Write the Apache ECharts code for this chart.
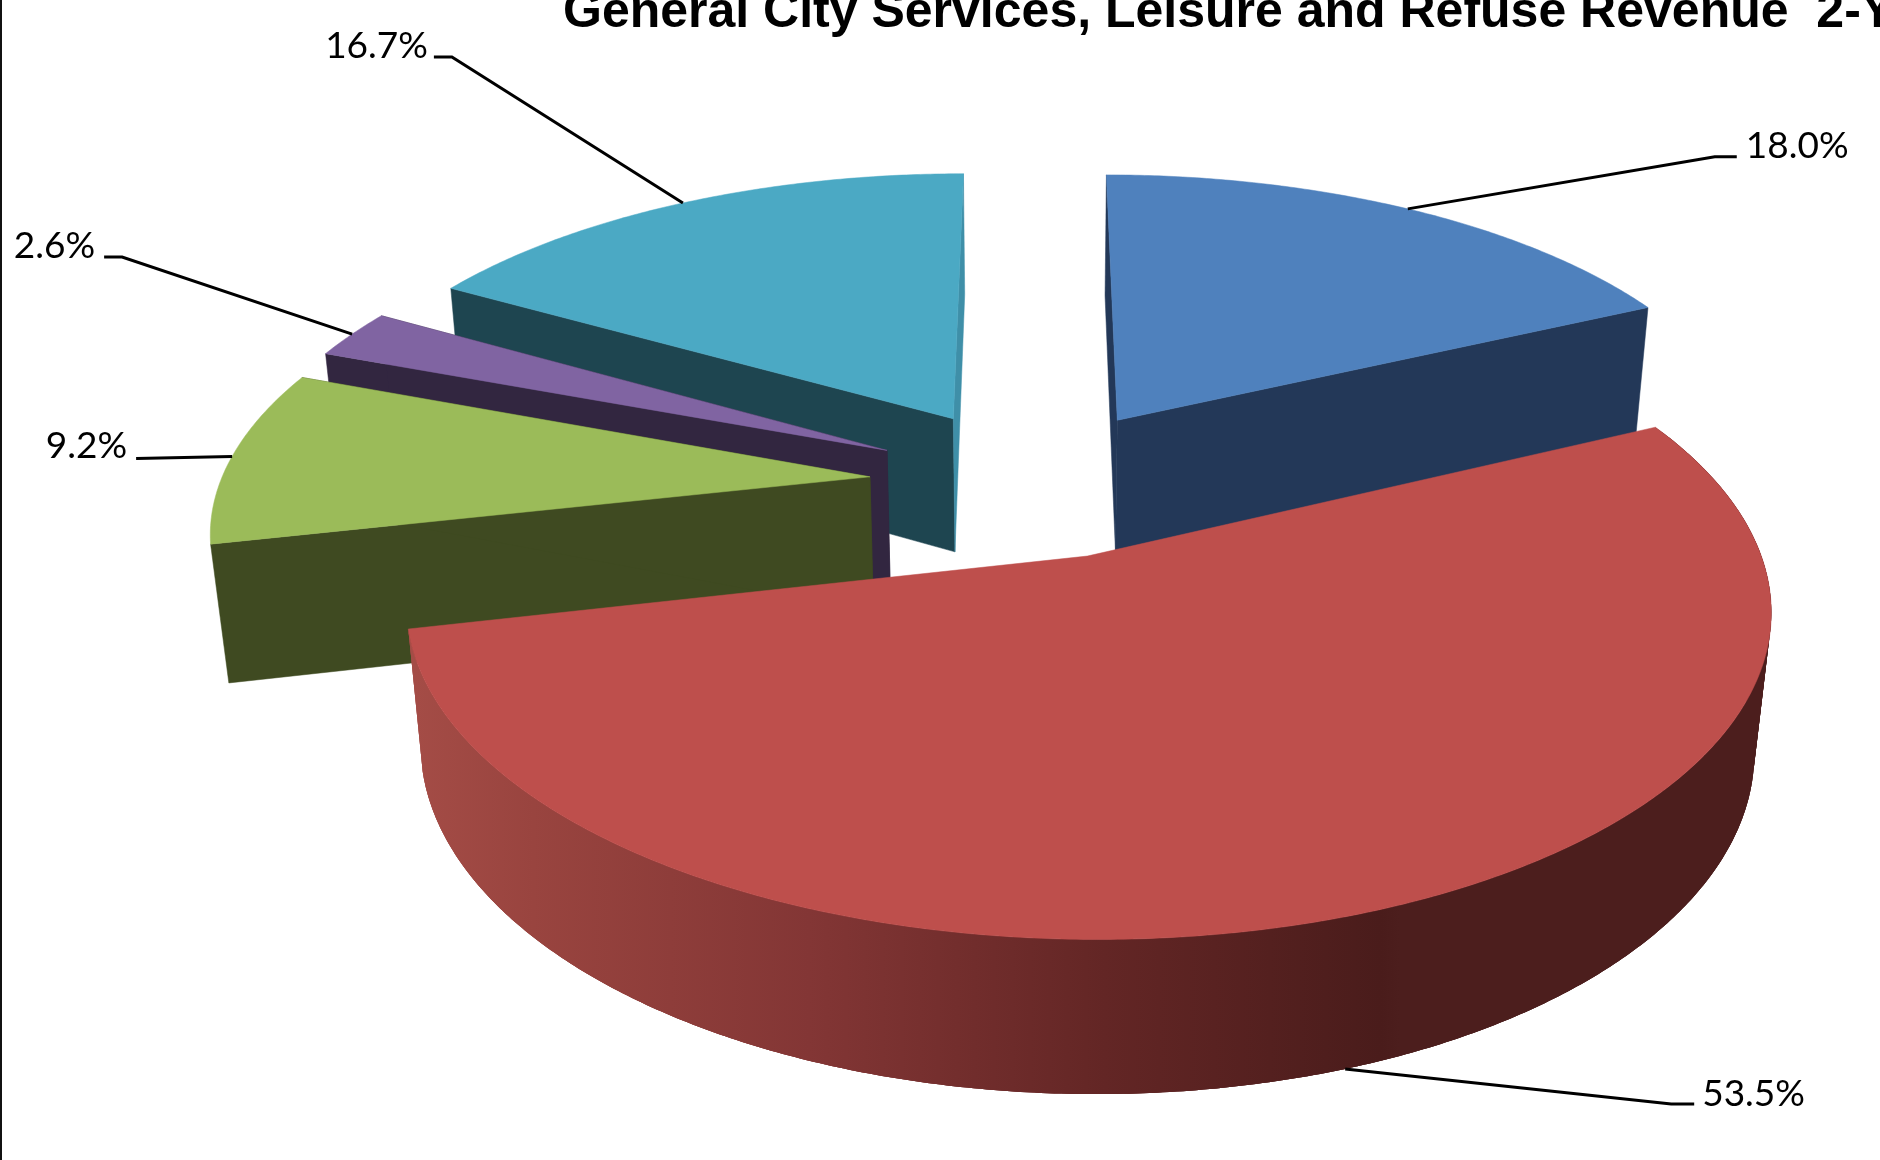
<!DOCTYPE html>
<html><head><meta charset="utf-8">
<style>html,body{margin:0;padding:0;background:#fff}#c{width:1880px;height:1160px}</style>
<script src="https://cdn.jsdelivr.net/npm/echarts@6/dist/echarts.min.js"></script>
</head><body><div id="c"></div>
<script>
// ---- data (clockwise from 12 o'clock) ----
const sliceNames = ['Slice 1', 'Slice 2', 'Slice 3', 'Slice 4', 'Slice 5'];
const sliceValues = [18.0, 53.5, 9.2, 2.6, 16.7];
const titleText = 'General City Services, Leisure and Refuse Revenue  2-Year';

// ---- styling ----
const topColors   = ['#4F81BD', '#BE4F4C', '#9BBB59', '#8064A2', '#4BA9C4'];
const startFaces  = ['#233858', '#4A1C1B', '#3F4A21', '#322640', '#1E4550'];
const endFaces    = ['#233858', '#4A1C1B', '#3F4A21', '#322640', '#3F8FA8'];
const drawOrder   = [4, 0, 3, 2, 1];               // back to front
// leader elbow / stub end / text anchor, relative to the leader's point on the rim
const labelLayout = [
  {elbow:[ 307,-52], stub:[ 329,-52], text:[ 338,-63], align:'left'},
  {elbow:[ 326, 35], stub:[ 349, 35], text:[ 357, 25], align:'left'},
  {elbow:[ -96,  2], stub:[ -96,  2], text:[-105,-10], align:'right'},
  {elbow:[-230,-77], stub:[-248,-77], text:[-257,-88], align:'right'},
  {elbow:[-231,-146],stub:[-249,-146],text:[-255,-157],align:'right'}
];
// projection of the tilted disc
const P = {cx:1032.5, cy:482, a:649.5, b:300, p:0.152, c:139, q:0.022, explode:0.2515};

function project(X, Y, Z) {
  const w = 1 - P.p * Y + P.q * Z;
  return [P.cx + P.a * X / w, P.cy + (P.b * Y + P.c * Z) / w];
}
const total = sliceValues.reduce((s, v) => s + v, 0);
const rad = v => echarts.number.linearMap(v, [0, total], [0, Math.PI * 2]);

const slices = [];
let cum = 0;
sliceValues.forEach((v, i) => {
  const a0 = rad(cum), a1 = rad(cum + v), mid = (a0 + a1) / 2;
  slices.push({a0, a1, mid, ox: Math.sin(mid) * P.explode, oy: -Math.cos(mid) * P.explode, value: v});
  cum += v;
});
function rimPoint(s, ang, Z) { return project(s.ox + Math.sin(ang), s.oy - Math.cos(ang), Z); }
function rimArc(s, Z) {
  const pts = [], n = Math.max(8, Math.ceil((s.a1 - s.a0) * 180 / Math.PI * 2));
  for (let k = 0; k <= n; k++) pts.push(rimPoint(s, s.a0 + (s.a1 - s.a0) * k / n, Z));
  return pts;
}
const wallGradient = new echarts.graphic.LinearGradient(415, 0, 1400, 0, [
  {offset: 0, color: '#A44C46'},
  {offset: 0.12, color: '#99443F'},
  {offset: 0.40, color: '#833635'},
  {offset: 0.70, color: '#632625'},
  {offset: 0.98, color: '#4A1C1B'},
  {offset: 1, color: '#4C1E1D'}
], true);

function renderSlice(params, api) {
  const i = drawOrder[params.dataIndex];
  const s = slices[i];
  const apexTop = project(s.ox, s.oy, 0), apexBot = project(s.ox, s.oy, 1);
  const top = rimArc(s, 0), bot = rimArc(s, 1);
  const poly = (points, fill) => ({type: 'polygon', shape: {points}, style: {fill, stroke: fill, lineWidth: 0.5}});
  const facesViewer = s.a0 < Math.PI && s.a1 > Math.PI;
  const children = [];
  if (facesViewer) {
    // overlapping strips of the outer wall, so that no seam shows between them
    for (let k = 0; k + 1 < top.length; k += 2) {
      const e = Math.min(top.length - 1, k + 6);
      const stripTop = top.slice(k, e + 1);
      const stripBot = bot.slice(k, e + 1).reverse();
      children.push({type: 'polygon', shape: {points: stripTop.concat(stripBot)}, style: {fill: wallGradient}});
    }
  } else {
    children.push(poly([top[0], apexTop, apexBot, bot[0]], startFaces[i]));
    children.push(poly([top[top.length - 1], apexTop, apexBot, bot[bot.length - 1]], endFaces[i]));
  }
  children.push(poly([apexTop].concat(top), topColors[i]));
  // leader & label
  const anchor = rimPoint(s, s.mid, facesViewer ? 1 : 0);
  const L = labelLayout[i];
  const at = d => [anchor[0] + d[0], anchor[1] + d[1]];
  children.push({type: 'polyline', shape: {points: [anchor, at(L.elbow), at(L.stub)]},
    style: {stroke: '#000', lineWidth: 3, fill: null}});
  const tp = at(L.text);
  children.push({type: 'text', style: {x: tp[0], y: tp[1], text: s.value.toFixed(1) + '%',
    fill: '#000', font: '37px Lato', textAlign: L.align, textVerticalAlign: 'middle'}});
  return {type: 'group', children};
}

const chart = echarts.init(document.getElementById('c'));
chart.setOption({
  animation: false,
  backgroundColor: '#fff',
  title: {text: titleText, left: 558, top: -17,
    textStyle: {fontFamily: 'Liberation Sans', fontWeight: 'bold', fontSize: 50, color: '#000'}},
  graphic: [{type: 'rect', shape: {x: 0, y: 0, width: 2, height: 1160}, style: {fill: '#111'}}],
  series: [{
    type: 'custom', coordinateSystem: 'none', renderItem: renderSlice,
    data: drawOrder.map(i => ({name: sliceNames[i], value: sliceValues[i]}))
  }]
});
</script></body></html>
